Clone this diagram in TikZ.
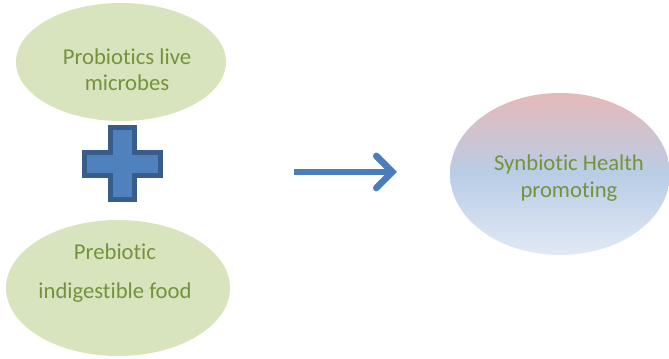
\documentclass[tikz,border=0pt]{standalone}
\usepackage{fontspec}
\setmainfont{Carlito}[Ligatures={NoCommon,NoRare}]
\usetikzlibrary{shapes.geometric,arrows.meta}
\definecolor{leaf}{HTML}{D7E4BD}
\definecolor{olive}{HTML}{76923C}
\definecolor{plusfill}{HTML}{4F81BD}
\definecolor{plusline}{HTML}{385D8A}
\definecolor{arrowblue}{HTML}{4A7EBB}
\definecolor{rosetop}{HTML}{E6B9B8}
\definecolor{bluemid}{HTML}{B9CDE5}
\definecolor{bluebot}{HTML}{E2E9F5}
\tikzset{
  blob/.style={ellipse,inner sep=0pt},
  txt/.style={text=olive,align=center,font=\fontsize{17}{19.5}\selectfont}
}
\begin{document}
\begin{tikzpicture}[x=0.75pt,y=-0.75pt]
  \useasboundingbox (0,0) rectangle (669,359);
  % the two ingredients
  \node[blob,fill=leaf,minimum width=157.5pt,minimum height=88.5pt] (probio) at (121,62) {};
  \node[txt] (probiotxt) at (127,70) {Probiotics live\\microbes};
  \node[blob,fill=leaf,minimum width=168pt,minimum height=102pt] (prebio) at (118,288) {};
  \node[txt,font=\fontsize{17}{29.5}\selectfont] (prebiotxt) at (115,273) {Prebiotic\\indigestible food};
  % plus sign
  \draw[fill=plusfill,draw=plusline,line width=3.75pt,line join=miter]
    (110.5,127.5) -- (134.5,127.5) -- (134.5,152.5) -- (160.5,152.5) -- (160.5,175.5)
    -- (134.5,175.5) -- (134.5,199.5) -- (110.5,199.5) -- (110.5,175.5) -- (84.5,175.5)
    -- (84.5,152.5) -- (110.5,152.5) -- cycle;
  % result
  \node[blob,top color=rosetop,bottom color=bluebot,middle color=bluemid,
    minimum width=165pt,minimum height=121.5pt] (synbio) at (560,174) {};
  \node[txt,font=\fontsize{17}{20.5}\selectfont] (synbiotxt) at (569,178) {Synbiotic Health\\promoting};
  \coordinate (arrowfrom) at (294,172);
  \coordinate (arrowto) at (397,172);
  \draw[arrowblue,line width=5pt,-{Straight Barb[length=12pt,width=24pt,line cap=round]}]
    (arrowfrom) -- (arrowto);
\end{tikzpicture}
\end{document}
